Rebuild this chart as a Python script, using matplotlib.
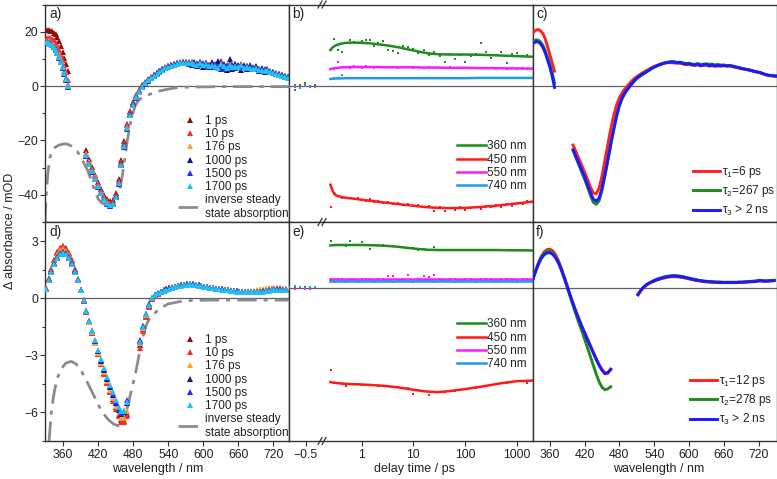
import numpy as np
import matplotlib
matplotlib.use('Agg')
import matplotlib.pyplot as plt
from matplotlib.ticker import MultipleLocator, FixedLocator, NullLocator, FixedFormatter
from matplotlib.lines import Line2D

plt.rcParams['font.family'] = ['Liberation Sans', 'DejaVu Sans']
plt.rcParams['mathtext.fontset'] = 'custom'
plt.rcParams['mathtext.rm'] = 'Liberation Sans'
plt.rcParams['mathtext.it'] = 'Liberation Sans:italic'
plt.rcParams['axes.unicode_minus'] = True

# ---------------- data: panel a (mOD) ----------------
delays = ['1 ps', '10 ps', '176 ps', '1000 ps', '1500 ps', '1700 ps']
wl_a1 = np.arange(332, 369, 3)          # 13 wavelengths
wl_a2 = np.arange(400, 746, 5)          # 70 wavelengths
a1_seg1 = [20.6, 20.5, 20.3, 20.1, 19.7, 19.0, 18.0, 16.6, 14.6, 12.6, 10.5, 8.2, 5.5]
a10_seg1 = [17.8, 17.7, 17.5, 17.2, 16.8, 16.0, 14.8, 13.3, 11.5, 9.5, 7.4, 5.1, 2.4]
a176_seg1 = [16.6, 16.4, 16.1, 15.6, 14.9, 14.0, 12.8, 11.3, 9.5, 7.5, 5.4, 3.1, 0.6]
a1000_seg1 = [16.2, 16.0, 15.7, 15.2, 14.5, 13.5, 12.2, 10.7, 8.9, 6.9, 4.8, 2.6, 0.0]
a1500_seg1 = [16.0, 15.8, 15.5, 15.0, 14.3, 13.3, 12.0, 10.5, 8.7, 6.7, 4.6, 2.3, -0.3]
a1700_seg1 = [16.3, 16.0, 15.6, 15.0, 14.2, 13.2, 12.0, 10.6, 8.8, 6.9, 4.8, 2.6, 0.0]

a1_seg2 = [-23.5, -26.8, -29.8, -32.6, -35.4, -38.0, -40.2, -41.7, -42.4, -42.0,
           -39.4, -34.2, -27.2, -20.2, -13.9, -9.2, -5.8, -3.3, -1.3, 0.3,
           1.5, 2.5, 3.4, 4.2, 4.9, 5.6, 6.3, 6.9, 7.4, 7.8,
           8.2, 8.5, 8.7, 8.9, 8.8, 8.6, 9.0, 8.5, 8.3, 8.7,
           8.1, 8.5, 7.9, 8.8, 7.7, 8.2, 9.1, 7.6, 7.3, 8.3,
           7.7, 8.0, 7.4, 8.1, 7.0, 7.5, 7.6, 6.8, 7.0, 6.4,
           6.3, 6.0, 6.2, 5.4, 5.1, 4.8, 4.4, 4.0, 3.6, 3.3]
a10_seg2 = [-24.5, -27.6, -30.4, -33.2, -36.0, -38.6, -40.8, -42.3, -43.0, -42.6,
            -40.0, -34.8, -27.9, -20.8, -14.4, -9.6, -6.1, -3.6, -1.6, 0.0,
            1.3, 2.3, 3.2, 4.0, 4.8, 5.5, 6.2, 6.8, 7.3, 7.7,
            8.1, 8.4, 8.6, 8.8, 8.7, 8.5, 8.8, 8.4, 8.1, 8.6,
            7.9, 8.3, 7.6, 8.1, 7.8, 7.1, 8.4, 7.5, 6.9, 7.9,
            7.3, 7.6, 7.2, 7.8, 6.9, 7.3, 7.1, 6.5, 6.8, 6.2,
            6.1, 5.8, 6.0, 5.3, 5.0, 4.7, 4.3, 3.9, 3.5, 3.2]
a176_seg2 = [-25.0, -28.0, -30.8, -33.6, -36.5, -39.0, -41.2, -42.8, -43.6, -43.2,
             -40.6, -35.5, -28.6, -21.5, -15.0, -10.1, -6.5, -3.9, -1.8, -0.2,
             1.2, 2.2, 3.1, 3.9, 4.7, 5.4, 6.1, 6.7, 7.2, 7.6,
             8.0, 8.3, 8.5, 8.7, 8.6, 8.4, 8.5, 8.3, 8.0, 8.2,
             7.8, 7.9, 7.4, 7.7, 7.6, 7.2, 7.8, 7.0, 6.4, 7.5,
             7.1, 7.3, 6.8, 7.2, 6.9, 6.8, 7.0, 6.6, 6.5, 6.2,
             6.0, 5.8, 5.6, 5.2, 4.9, 4.6, 4.2, 3.9, 3.5, 3.2]
a1000_seg2 = [-25.6, -28.6, -31.3, -34.1, -36.9, -39.4, -41.6, -43.1, -43.9, -43.3,
              -40.6, -35.6, -28.8, -21.8, -15.3, -10.3, -6.7, -4.1, -2.0, -0.3,
              1.1, 2.2, 3.1, 3.9, 4.7, 5.4, 6.1, 6.7, 7.2, 7.6,
              8.0, 8.3, 8.6, 8.9, 8.3, 8.8, 7.9, 8.9, 7.4, 8.7,
              7.0, 8.4, 6.9, 8.6, 7.2, 9.4, 6.4, 8.1, 5.8, 9.9,
              6.4, 8.2, 7.6, 6.0, 7.9, 6.2, 7.5, 6.4, 7.2, 5.6,
              6.6, 5.3, 6.3, 5.0, 5.2, 4.4, 4.3, 3.9, 3.6, 3.2]
a1500_seg2 = [-25.8, -28.8, -31.5, -34.3, -37.0, -39.5, -41.7, -43.2, -44.0, -43.5,
              -40.9, -36.0, -29.2, -22.3, -15.8, -10.7, -6.9, -4.3, -2.2, -0.5,
              0.9, 2.0, 2.9, 3.8, 4.5, 5.2, 5.9, 6.5, 7.0, 7.5,
              7.8, 8.1, 8.5, 8.4, 8.7, 8.1, 8.4, 7.7, 8.2, 7.6,
              8.3, 7.5, 7.8, 7.0, 8.1, 7.3, 7.4, 6.2, 7.6, 6.9,
              7.8, 6.8, 7.1, 7.4, 6.5, 7.2, 6.6, 6.9, 6.2, 6.4,
              5.7, 6.1, 5.5, 5.3, 4.9, 4.6, 4.2, 3.9, 3.5, 3.2]
a1700_seg2 = [-25.5, -28.5, -31.2, -34.0, -36.8, -39.3, -41.5, -43.0, -43.9, -43.4,
              -40.8, -35.8, -29.0, -22.0, -15.5, -10.5, -6.8, -4.2, -2.1, -0.4,
              1.0, 2.1, 3.0, 3.8, 4.6, 5.3, 6.0, 6.6, 7.1, 7.5,
              7.9, 8.2, 8.4, 8.6, 8.5, 8.3, 8.6, 8.2, 7.9, 8.3,
              7.6, 8.1, 7.2, 7.9, 7.5, 6.8, 8.0, 7.3, 6.5, 7.8,
              7.0, 7.4, 6.9, 7.6, 6.6, 7.0, 6.8, 6.3, 6.6, 6.0,
              5.9, 5.6, 5.8, 5.0, 4.8, 4.5, 4.1, 3.8, 3.4, 3.1]

gray_a_wl = [329, 331, 334, 337, 341, 346, 352, 360, 366, 372, 378, 384, 390, 396, 402,
             408, 414, 420, 426, 432, 440, 448, 454, 458, 462, 466, 470, 474, 478, 483,
             488, 495, 505, 515, 525, 540, 555, 570, 600, 650, 746]
gray_a = [-50, -40, -32, -26.5, -24, -22.6, -21.8, -21.3, -21.3, -21.8, -22.6, -24, -26, -28.5, -31,
          -34.5, -38.5, -41.5, -43, -43.5, -43.5, -42.5, -40, -37, -32, -26, -20, -15, -11, -7.5,
          -5.5, -4.3, -3.3, -2.5, -1.8, -1.1, -0.6, -0.4, -0.3, -0.2, -0.2]

# ---------------- data: panel d (mOD) ----------------
wl_d1 = np.arange(330, 471, 5)          # 29
wl_d2 = np.arange(492, 743, 5)          # 51
d1_seg1 = [0.55, 1.05, 1.55, 2.00, 2.40, 2.66, 2.76, 2.64, 2.37, 1.99, 1.52, 1.01, 0.44, -0.15, -0.71,
           -1.27, -1.83, -2.38, -2.92, -3.44, -3.94, -4.42, -4.88, -5.32, -5.74, -6.12, -6.40, -6.45, -6.10]
d10_seg1 = [0.54, 1.03, 1.52, 1.98, 2.37, 2.63, 2.72, 2.60, 2.34, 1.97, 1.51, 1.01, 0.44, -0.14, -0.70,
            -1.26, -1.82, -2.38, -2.92, -3.45, -3.96, -4.45, -4.93, -5.38, -5.82, -6.20, -6.48, -6.52, -6.20]
d176_seg1 = [0.52, 1.00, 1.48, 1.92, 2.28, 2.52, 2.60, 2.50, 2.26, 1.92, 1.48, 1.00, 0.45, -0.12, -0.68,
             -1.23, -1.78, -2.33, -2.86, -3.38, -3.88, -4.36, -4.82, -5.26, -5.68, -6.05, -6.30, -6.28, -5.95]
d1000_seg1 = [0.50, 0.96, 1.42, 1.83, 2.16, 2.38, 2.45, 2.37, 2.16, 1.85, 1.44, 0.98, 0.45, -0.11, -0.66,
              -1.20, -1.74, -2.27, -2.79, -3.29, -3.78, -4.24, -4.68, -5.10, -5.50, -5.86, -6.08, -6.00, -5.50]
d1500_seg1 = [0.48, 0.93, 1.38, 1.79, 2.12, 2.33, 2.40, 2.32, 2.12, 1.82, 1.42, 0.97, 0.44, -0.11, -0.65,
              -1.19, -1.72, -2.25, -2.76, -3.25, -3.74, -4.19, -4.63, -5.04, -5.44, -5.80, -6.02, -5.95, -5.35]
d1700_seg1 = [0.50, 0.95, 1.40, 1.80, 2.12, 2.32, 2.38, 2.30, 2.10, 1.80, 1.40, 0.95, 0.42, -0.12, -0.65,
              -1.18, -1.70, -2.22, -2.72, -3.20, -3.68, -4.12, -4.55, -4.95, -5.35, -5.70, -5.95, -5.90, -5.45]

d1_seg2 = [-2.45, -1.60, -0.92, -0.40, -0.02, 0.13, 0.24, 0.33, 0.41, 0.47,
           0.52, 0.57, 0.61, 0.65, 0.68, 0.70, 0.72, 0.73, 0.72, 0.70,
           0.67, 0.64, 0.61, 0.58, 0.55, 0.52, 0.50, 0.48, 0.46, 0.44,
           0.42, 0.40, 0.38, 0.36, 0.35, 0.34, 0.33, 0.33, 0.33, 0.34,
           0.35, 0.37, 0.39, 0.41, 0.44, 0.46, 0.48, 0.49, 0.49, 0.48, 0.47]
d10_seg2 = [-2.60, -1.70, -0.98, -0.44, -0.04, 0.12, 0.23, 0.32, 0.40, 0.46,
            0.51, 0.56, 0.60, 0.64, 0.67, 0.70, 0.72, 0.73, 0.72, 0.70,
            0.67, 0.64, 0.61, 0.58, 0.55, 0.52, 0.50, 0.48, 0.46, 0.44,
            0.42, 0.40, 0.38, 0.36, 0.35, 0.34, 0.33, 0.33, 0.34, 0.35,
            0.37, 0.39, 0.42, 0.45, 0.47, 0.49, 0.51, 0.52, 0.51, 0.50, 0.49]
d176_seg2 = [-2.35, -1.55, -0.88, -0.37, 0.01, 0.15, 0.25, 0.34, 0.41, 0.47,
             0.52, 0.57, 0.61, 0.65, 0.68, 0.71, 0.73, 0.74, 0.73, 0.71,
             0.68, 0.65, 0.62, 0.59, 0.56, 0.53, 0.51, 0.49, 0.47, 0.45,
             0.43, 0.41, 0.39, 0.37, 0.36, 0.35, 0.35, 0.36, 0.38, 0.40,
             0.43, 0.46, 0.49, 0.52, 0.54, 0.56, 0.55, 0.53, 0.51, 0.49, 0.47]
d1000_seg2 = [-2.25, -1.48, -0.83, -0.33, 0.03, 0.16, 0.26, 0.34, 0.41, 0.46,
              0.51, 0.56, 0.60, 0.64, 0.67, 0.70, 0.72, 0.73, 0.72, 0.70,
              0.67, 0.64, 0.61, 0.58, 0.55, 0.52, 0.50, 0.48, 0.46, 0.44,
              0.42, 0.40, 0.38, 0.36, 0.34, 0.33, 0.32, 0.31, 0.31, 0.31,
              0.32, 0.34, 0.36, 0.38, 0.41, 0.43, 0.45, 0.46, 0.46, 0.45, 0.44]
d1500_seg2 = [-2.20, -1.45, -0.82, -0.33, 0.03, 0.16, 0.26, 0.34, 0.41, 0.46,
              0.51, 0.56, 0.60, 0.64, 0.67, 0.70, 0.72, 0.73, 0.72, 0.70,
              0.67, 0.64, 0.61, 0.58, 0.55, 0.52, 0.50, 0.48, 0.46, 0.44,
              0.42, 0.40, 0.38, 0.36, 0.34, 0.33, 0.32, 0.31, 0.31, 0.31,
              0.32, 0.34, 0.36, 0.38, 0.41, 0.43, 0.45, 0.46, 0.46, 0.45, 0.44]
d1700_seg2 = [-2.30, -1.50, -0.85, -0.35, 0.02, 0.15, 0.25, 0.33, 0.40, 0.45,
              0.50, 0.55, 0.59, 0.63, 0.66, 0.69, 0.71, 0.72, 0.71, 0.69,
              0.66, 0.63, 0.60, 0.57, 0.54, 0.51, 0.49, 0.47, 0.45, 0.43,
              0.41, 0.39, 0.37, 0.35, 0.33, 0.32, 0.31, 0.30, 0.30, 0.30,
              0.31, 0.33, 0.35, 0.37, 0.40, 0.42, 0.44, 0.45, 0.45, 0.44, 0.43]

gray_d_wl = [336, 340, 345, 350, 357, 365, 374, 382, 390, 398, 406, 414, 422, 430, 438, 446,
             454, 460, 466, 472, 478, 484, 490, 496, 502, 508, 515, 525, 540, 560, 580, 620, 746]
gray_d = [-7.5, -5.9, -4.9, -4.2, -3.7, -3.4, -3.32, -3.45, -3.75, -4.2, -4.7, -5.2, -5.7, -6.1, -6.4, -6.6,
          -6.7, -6.6, -6.2, -5.5, -4.7, -3.95, -3.0, -2.1, -1.45, -1.05, -0.85, -0.55, -0.3, -0.18, -0.12, -0.1, -0.1]

# ---------------- data: panels b / e (kinetics) ----------------
probe = ['360 nm', '450 nm', '550 nm', '740 nm']
t_neg = [-0.69, -0.63, -0.57, -0.51, -0.45, -0.39]
t_pts = [0.26, 0.3, 0.35, 0.42, 0.5, 0.6, 0.7, 0.85, 1.0, 1.2,
         1.45, 1.75, 2.1, 2.6, 3.2, 4.0, 5.0, 6.3, 8.0, 10,
         12.5, 16, 20, 25, 32, 40, 50, 63, 80, 100,
         130, 160, 200, 250, 320, 400, 500, 630, 800, 1000,
         1300, 1600]
t_fit = [0.25, 0.28, 0.32, 0.4, 0.5, 0.7, 1, 1.5, 2, 3, 5, 7, 10, 15, 20, 30, 50, 100, 200, 400, 700, 1000, 2000]

b_neg_360 = [0.2, -1.6, 0.5, 1.2, -0.2, 0.4]
b_neg_450 = [-0.3, 0.4, -0.5, 0.2, -0.4, 0.3]
b_neg_550 = [0.1, -0.2, -0.6, 0.3, -0.3, -0.5]
b_neg_740 = [-0.4, 0.1, -0.2, -0.1, 0.2, -0.3]
b_pts_360 = [13.2, 17.3, 13.4, 12.6, 16.0, 16.9, 16.2, 15.9, 16.6, 17.1,
             16.9, 14.6, 15.8, 16.4, 13.1, 12.8, 12.3, 14.9, 14.2, 13.6,
             12.3, 13.2, 11.5, 12.4, 11.2, 9.0, 11.8, 9.8, 11.3, 8.9,
             11.0, 11.8, 15.7, 12.5, 10.2, 11.6, 12.5, 8.6, 11.9, 12.2,
             10.9, 11.4]
b_pts_450 = [-44.3, -39.6, -40.3, -41.0, -41.2, -41.0, -41.6, -41.3, -41.9, -42.1,
             -41.7, -42.5, -42.2, -42.9, -42.6, -43.4, -43.1, -43.7, -43.5, -44.2,
             -43.8, -44.6, -44.2, -46.0, -44.5, -45.8, -44.7, -45.6, -44.6, -45.5,
             -44.9, -44.3, -45.2, -44.1, -44.5, -43.7, -44.5, -43.2, -44.0, -43.0,
             -43.4, -42.4]
b_pts_550 = [6.3, 6.5, 8.9, 6.9, 7.1, 6.8, 7.3, 7.0, 6.8, 7.2,
             7.0, 6.8, 7.1, 6.9, 7.0, 7.1, 6.8, 6.9, 7.0, 6.7,
             6.9, 6.8, 7.0, 6.6, 6.8, 6.7, 6.9, 6.6, 6.8, 6.6,
             6.7, 6.5, 6.7, 6.5, 6.6, 6.4, 6.6, 6.4, 6.5, 6.3,
             6.5, 6.3]
b_pts_740 = [2.6, 2.8, 2.9, 3.9, 2.8, 2.9, 3.0, 2.8, 2.9, 3.0,
             2.8, 2.9, 3.0, 2.9, 2.8, 3.0, 2.9, 2.9, 3.0, 2.8,
             2.9, 3.0, 2.9, 3.0, 2.8, 2.9, 3.0, 3.1, 2.9, 3.0,
             2.9, 3.0, 3.1, 2.9, 3.0, 3.1, 2.9, 3.0, 3.1, 3.0,
             3.1, 3.0]
b_fit_360 = [13.3, 14.3, 15.0, 15.6, 15.9, 16.0, 15.9, 15.7, 15.4, 15.0, 14.3, 13.7, 13.1, 12.4, 12.0, 11.7, 11.6, 11.6, 11.5, 11.3, 11.1, 11.0, 10.8]
b_fit_450 = [-36.3, -38.8, -40.2, -40.8, -41.1, -41.4, -41.8, -42.2, -42.5, -42.9, -43.4, -43.7, -44.0, -44.4, -44.6, -44.8, -44.9, -44.8, -44.5, -44.0, -43.5, -43.2, -42.5]
b_fit_550 = [6.2, 6.4, 6.6, 6.8, 6.9, 7.0, 7.0, 7.0, 7.0, 6.9, 6.9, 6.9, 6.9, 6.8, 6.8, 6.8, 6.7, 6.7, 6.6, 6.6, 6.5, 6.5, 6.4]
b_fit_740 = [2.6, 2.7, 2.8, 2.8, 2.9, 2.9, 2.9, 2.9, 2.9, 2.9, 2.9, 2.9, 2.9, 2.9, 2.9, 2.9, 2.9, 2.9, 3.0, 3.0, 3.0, 3.0, 3.0]

e_neg_360 = [0.02, -0.03, 0.03, 0.01, -0.02, 0.02]
e_neg_450 = [-0.02, 0.02, -0.03, 0.01, -0.02, 0.03]
e_neg_550 = [0.01, -0.06, 0.02, -0.04, -0.07, 0.03]
e_neg_740 = [0.03, 0.06, 0.02, -0.02, 0.04, 0.01]
e_pts_360 = [2.11, 1.95, 1.95, 1.97, 1.92, 2.11, 1.96, 1.93, 2.08, 1.95,
             1.75, 1.96, 1.93, 1.94, 1.91, 1.90, 1.87, 1.85, 1.82, 1.79,
             1.70, 1.76, 1.73, 1.87, 1.72, 1.73, 1.71, 1.72, 1.73, 1.71,
             1.72, 1.70, 1.72, 1.73, 1.71, 1.72, 1.71, 1.72, 1.70, 1.71,
             1.72, 1.70]
e_pts_450 = [-3.78, -4.33, -4.35, -4.38, -4.50, -4.40, -4.42, -4.41, -4.45, -4.43,
             -4.44, -4.46, -4.48, -4.47, -4.51, -4.52, -4.55, -4.56, -4.58, -4.85,
             -4.66, -4.70, -4.90, -4.75, -4.77, -4.76, -4.73, -4.70, -4.67, -4.63,
             -4.60, -4.56, -4.52, -4.48, -4.45, -4.40, -4.36, -4.33, -4.30, -4.28,
             -4.26, -4.33]
e_pts_550 = [0.38, 0.37, 0.39, 0.38, 0.37, 0.39, 0.38, 0.37, 0.38, 0.39,
             0.38, 0.37, 0.38, 0.39, 0.52, 0.55, 0.37, 0.38, 0.60, 0.28,
             0.38, 0.55, 0.48, 0.58, 0.38, 0.37, 0.38, 0.39, 0.37, 0.38,
             0.39, 0.37, 0.38, 0.39, 0.38, 0.37, 0.38, 0.39, 0.38, 0.37,
             0.38, 0.39]
e_pts_740 = [0.29, 0.28, 0.30, 0.29, 0.28, 0.30, 0.29, 0.28, 0.29, 0.30,
             0.29, 0.28, 0.29, 0.30, 0.29, 0.28, 0.29, 0.30, 0.29, 0.28,
             0.29, 0.30, 0.29, 0.28, 0.29, 0.30, 0.29, 0.28, 0.29, 0.30,
             0.29, 0.28, 0.29, 0.30, 0.29, 0.28, 0.29, 0.30, 0.29, 0.28,
             0.29, 0.30]
e_fit_360 = [1.93, 1.94, 1.95, 1.95, 1.95, 1.95, 1.95, 1.94, 1.93, 1.91, 1.87, 1.83, 1.79, 1.75, 1.73, 1.72, 1.72, 1.72, 1.72, 1.72, 1.71, 1.71, 1.70]
e_fit_450 = [-4.31, -4.33, -4.35, -4.37, -4.39, -4.41, -4.42, -4.44, -4.46, -4.49, -4.55, -4.60, -4.66, -4.72, -4.75, -4.77, -4.72, -4.63, -4.52, -4.40, -4.31, -4.27, -4.24]
e_fit_550 = [0.38, 0.38, 0.38, 0.38, 0.38, 0.38, 0.38, 0.38, 0.38, 0.38, 0.38, 0.38, 0.38, 0.38, 0.38, 0.38, 0.38, 0.38, 0.38, 0.38, 0.38, 0.38, 0.38]
e_fit_740 = [0.29, 0.29, 0.29, 0.29, 0.29, 0.29, 0.29, 0.29, 0.29, 0.29, 0.29, 0.29, 0.29, 0.29, 0.29, 0.29, 0.29, 0.29, 0.29, 0.29, 0.29, 0.29, 0.29]

# ---------------- data: panels c / f (DAS) ----------------
tau_c = [r'τ$_1$=6 ps', r'τ$_2$=267 ps', r'τ$_3$ > 2 ns']
tau_f = [r'τ$_1$=12 ps', r'τ$_2$=278 ps', r'τ$_3$ > 2 ns']
wl_c1 = np.arange(332, 369, 4)          # 10
wl_c2 = np.arange(400, 751, 5)          # 71
c1_seg1 = [19.8, 20.6, 20.8, 20.3, 19.3, 17.3, 14.5, 11.5, 8.5, 5.5]
c2_seg1 = [16.5, 17.0, 16.9, 16.2, 15.0, 13.0, 10.5, 8.0, 4.8, 1.2]
c3_seg1 = [15.8, 16.3, 16.2, 15.5, 14.2, 12.2, 9.6, 6.9, 3.6, -0.5]
c1_seg2 = [-21.7, -24.2, -26.7, -29.2, -31.7, -34.4, -37.2, -39.3, -39.6, -37.5,
           -33.0, -27.3, -21.5, -15.8, -11.0, -7.0, -4.3, -2.4, -0.9, 0.4,
           1.6, 2.7, 3.5, 4.2, 4.9, 5.5, 6.1, 6.7, 7.2, 7.6,
           8.0, 8.3, 8.5, 8.6, 8.6, 8.5, 8.4, 8.4, 8.1, 7.9,
           8.0, 7.7, 7.6, 7.8, 7.4, 7.6, 7.7, 7.3, 7.5, 7.3,
           7.4, 7.3, 7.5, 7.3, 7.4, 7.2, 6.9, 6.7, 6.4, 6.2,
           6.0, 5.8, 5.5, 5.2, 5.0, 4.7, 4.3, 4.0, 3.8, 3.7, 3.6]
c2_seg2 = [-23.5, -26.3, -29.0, -31.7, -34.3, -37.2, -40.2, -42.8, -43.5, -42.2,
           -38.2, -33.0, -27.4, -21.6, -16.2, -11.2, -7.2, -4.4, -2.5, -1.0,
           0.4, 1.7, 2.8, 3.6, 4.3, 5.0, 5.7, 6.4, 7.0, 7.5,
           7.9, 8.3, 8.6, 8.8, 9.0, 8.9, 8.7, 8.8, 8.5, 8.3,
           8.4, 8.1, 8.0, 8.3, 7.9, 8.1, 8.2, 8.0, 8.1, 7.8,
           8.0, 7.7, 7.8, 7.5, 7.6, 7.4, 7.1, 6.9, 6.6, 6.3,
           6.1, 5.9, 5.6, 5.3, 5.1, 4.8, 4.4, 4.1, 3.9, 3.8, 3.7]
c3_seg2 = [-23.5, -26.0, -28.5, -31.0, -33.5, -36.3, -39.2, -41.6, -42.3, -41.2,
           -37.5, -32.5, -27.0, -21.3, -16.0, -11.0, -7.0, -4.2, -2.3, -0.8,
           0.5, 1.8, 2.9, 3.7, 4.4, 5.0, 5.7, 6.4, 7.0, 7.5,
           7.9, 8.3, 8.6, 8.8, 8.9, 8.8, 8.6, 8.7, 8.3, 8.1,
           8.2, 7.9, 7.7, 8.0, 7.6, 7.8, 7.9, 7.5, 7.7, 7.4,
           7.6, 7.5, 7.6, 7.4, 7.5, 7.3, 7.0, 6.8, 6.5, 6.3,
           6.1, 5.9, 5.6, 5.3, 5.1, 4.8, 4.4, 4.1, 3.9, 3.8, 3.7]

wl_f1 = np.arange(330, 466, 5)          # 28
wl_f2 = np.arange(512, 748, 5)          # 48
f1_seg1 = [0.35, 0.75, 1.12, 1.42, 1.63, 1.74, 1.76, 1.68, 1.50, 1.22, 0.87, 0.48, 0.07, -0.35,
           -0.72, -1.08, -1.42, -1.75, -2.05, -2.35, -2.65, -2.95, -3.25, -3.52, -3.74, -3.90, -3.86, -3.74]
f2_seg1 = [0.34, 0.74, 1.10, 1.38, 1.57, 1.67, 1.68, 1.58, 1.40, 1.14, 0.80, 0.42, 0.02, -0.40,
           -0.82, -1.22, -1.60, -1.97, -2.35, -2.75, -3.15, -3.55, -3.95, -4.30, -4.55, -4.66, -4.62, -4.52]
f3_seg1 = [0.33, 0.72, 1.06, 1.33, 1.50, 1.59, 1.60, 1.52, 1.36, 1.12, 0.80, 0.44, 0.05, -0.35,
           -0.74, -1.10, -1.44, -1.77, -2.07, -2.38, -2.68, -2.98, -3.28, -3.55, -3.77, -3.93, -3.90, -3.72]
f1_seg2 = [-0.32, -0.13, 0.02, 0.13, 0.21, 0.27, 0.32, 0.37, 0.41, 0.44,
           0.47, 0.49, 0.50, 0.50, 0.49, 0.47, 0.45, 0.42, 0.39, 0.36,
           0.33, 0.31, 0.29, 0.27, 0.26, 0.25, 0.24, 0.24, 0.23, 0.23,
           0.23, 0.23, 0.23, 0.23, 0.23, 0.24, 0.24, 0.25, 0.26, 0.27,
           0.27, 0.29, 0.31, 0.30, 0.29, 0.30, 0.31, 0.32]
f2_seg2 = [-0.31, -0.11, 0.04, 0.15, 0.23, 0.30, 0.36, 0.41, 0.45, 0.49,
           0.52, 0.54, 0.55, 0.55, 0.54, 0.52, 0.49, 0.46, 0.43, 0.40,
           0.37, 0.34, 0.32, 0.30, 0.29, 0.28, 0.27, 0.26, 0.26, 0.25,
           0.25, 0.25, 0.25, 0.25, 0.25, 0.26, 0.26, 0.27, 0.28, 0.29,
           0.30, 0.32, 0.34, 0.33, 0.31, 0.32, 0.33, 0.34]
f3_seg2 = [-0.32, -0.12, 0.03, 0.14, 0.22, 0.28, 0.34, 0.39, 0.43, 0.47,
           0.50, 0.52, 0.53, 0.53, 0.52, 0.50, 0.47, 0.44, 0.41, 0.38,
           0.35, 0.33, 0.31, 0.29, 0.28, 0.27, 0.26, 0.25, 0.25, 0.24,
           0.24, 0.24, 0.24, 0.24, 0.24, 0.25, 0.25, 0.26, 0.27, 0.28,
           0.28, 0.30, 0.32, 0.31, 0.30, 0.31, 0.32, 0.33]

# ---------------- style ----------------
delay_colors = ['#8a1010', '#ff2a2a', '#ffa030', '#141488', '#2a2aff', '#22c0f0']
probe_colors = ['#1e8c1e', '#ff1a1a', '#ff19ff', '#1e9beb']
das_colors = ['#ff2020', '#1e8c1e', '#1a1aff']
gray_col = '#8c8c8c'
spine_col = '#333333'
TICK_FS = 8.8
LEG_FS = 8.5
LAB_FS = 9.0
MS = 4.2
PMS = 2.0

W, H = 777, 479
fig = plt.figure(figsize=(W / 100, H / 100), dpi=100)


def rect(x0, y0, x1, y1):
    return [x0 / W, 1 - y1 / H, (x1 - x0) / W, (y1 - y0) / H]


def fx(px):
    return px / W


def fy(py):
    return 1 - py / H


def style(ax, hide=()):
    for s, sp in ax.spines.items():
        sp.set_color(spine_col)
        sp.set_linewidth(1.0)
        if s in hide:
            sp.set_visible(False)
    ax.tick_params(which='both', direction='out', colors=spine_col, labelcolor='#222222',
                   labelsize=TICK_FS, width=0.8)
    ax.tick_params(which='major', length=3.5)
    ax.tick_params(which='minor', length=2)
    ax.axhline(0, color='#606060', lw=0.9, zorder=1)


YT, YM, YB = 4.5, 222, 441
XA0, XA1, XBR, XB1, XC1 = 45, 288.5, 323, 532.5, 776.5

ax_a = fig.add_axes(rect(XA0, YT, XA1, YM))
ax_d = fig.add_axes(rect(XA0, YM, XA1, YB))
ax_bl = fig.add_axes(rect(XA1, YT, XBR, YM))
ax_br = fig.add_axes(rect(XBR, YT, XB1, YM))
ax_el = fig.add_axes(rect(XA1, YM, XBR, YB))
ax_er = fig.add_axes(rect(XBR, YM, XB1, YB))
ax_c = fig.add_axes(rect(XB1, YT, XC1, YM))
ax_f = fig.add_axes(rect(XB1, YM, XC1, YB))

for ax in (ax_a, ax_d, ax_c, ax_f):
    style(ax)
for ax in (ax_bl, ax_el):
    style(ax, hide=('right',))
for ax in (ax_br, ax_er):
    style(ax, hide=('left',))

# ---- panel a / d: spectra ----
seg1_a = [a1_seg1, a10_seg1, a176_seg1, a1000_seg1, a1500_seg1, a1700_seg1]
seg2_a = [a1_seg2, a10_seg2, a176_seg2, a1000_seg2, a1500_seg2, a1700_seg2]
seg1_d = [d1_seg1, d10_seg1, d176_seg1, d1000_seg1, d1500_seg1, d1700_seg1]
seg2_d = [d1_seg2, d10_seg2, d176_seg2, d1000_seg2, d1500_seg2, d1700_seg2]

for ax, s1, s2, w1, w2, gwl, gv in ((ax_a, seg1_a, seg2_a, wl_a1, wl_a2, gray_a_wl, gray_a),
                                     (ax_d, seg1_d, seg2_d, wl_d1, wl_d2, gray_d_wl, gray_d)):
    ax.plot(gwl, gv, color=gray_col, lw=2.0, ls=(0, (7, 2.5, 1.5, 2.5)), zorder=2)
    for i, lab in enumerate(delays):
        ax.plot(w1, s1[i], ls='none', marker='^', ms=MS, mew=0, color=delay_colors[i], zorder=3 + i)
        ax.plot(w2, s2[i], ls='none', marker='^', ms=MS, mew=0, color=delay_colors[i], zorder=3 + i)
    ax.set_xlim(329, 746)
    ax.xaxis.set_major_locator(FixedLocator([360, 420, 480, 540, 600, 660, 720]))

ax_a.set_ylim(-50, 30)
ax_a.yaxis.set_major_locator(FixedLocator([-40, -20, 0, 20]))
ax_a.yaxis.set_minor_locator(MultipleLocator(10))
ax_a.tick_params(axis='x', which='both', bottom=False, labelbottom=False)
ax_d.set_ylim(-7.5, 4)
ax_d.yaxis.set_major_locator(FixedLocator([-6, -3, 0, 3]))
ax_d.yaxis.set_minor_locator(MultipleLocator(1.5))
ax_d.xaxis.set_minor_locator(NullLocator())
ax_d.tick_params(axis='x', pad=2)
ax_d.tick_params(axis='y', pad=1.5)
ax_a.tick_params(axis='y', pad=1.5)


def delay_legend(ax, anchor):
    hs = [Line2D([], [], ls='none', marker='^', ms=MS, mew=0, color=c) for c in delay_colors]
    hs.append(Line2D([], [], color=gray_col, lw=2.0, ls=(0, (7, 2.5, 1.5, 2.5))))
    labs = delays + ['inverse steady\nstate absorption']
    leg = ax.legend(hs, labs, loc='lower right', bbox_to_anchor=(fx(anchor[0]), fy(anchor[1])),
                    bbox_transform=fig.transFigure, frameon=False, fontsize=LEG_FS,
                    handlelength=2.0, handletextpad=0.3, labelspacing=0.1, borderpad=0.0,
                    borderaxespad=0.0, numpoints=1)
    for t in leg.get_texts():
        t.set_color('#222222')


delay_legend(ax_a, (289, 220))
delay_legend(ax_d, (289, 439))

# ---- panels b / e: kinetics ----
b_neg = [b_neg_360, b_neg_450, b_neg_550, b_neg_740]
b_pts = [b_pts_360, b_pts_450, b_pts_550, b_pts_740]
b_fit = [b_fit_360, b_fit_450, b_fit_550, b_fit_740]
e_neg = [e_neg_360, e_neg_450, e_neg_550, e_neg_740]
e_pts = [e_pts_360, e_pts_450, e_pts_550, e_pts_740]
e_fit = [e_fit_360, e_fit_450, e_fit_550, e_fit_740]

for axl, axr, neg, pts, fit, ylim in ((ax_bl, ax_br, b_neg, b_pts, b_fit, (-50, 30)),
                                      (ax_el, ax_er, e_neg, e_pts, e_fit, (-7, 3))):
    for i in range(4):
        axl.plot(t_neg, neg[i], ls='none', marker='s', ms=PMS, mew=0, color=probe_colors[i], zorder=3)
        axr.plot(t_pts, pts[i], ls='none', marker='s', ms=PMS, mew=0, color=probe_colors[i], zorder=3)
    for i in range(4):
        axr.plot(t_fit, fit[i], color=probe_colors[i], lw=1.8, zorder=4, label=probe[i])
    axl.set_xlim(-0.7, -0.3)
    axr.set_xscale('log')
    axr.set_xlim(0.18, 2000)
    for ax in (axl, axr):
        ax.set_ylim(*ylim)
        ax.yaxis.set_major_locator(NullLocator())
        ax.yaxis.set_minor_locator(NullLocator())
        ax.tick_params(axis='y', left=False, right=False, labelleft=False)
    axl.xaxis.set_major_locator(FixedLocator([-0.5]))
    axl.xaxis.set_minor_locator(NullLocator())
    axr.xaxis.set_major_locator(FixedLocator([1, 10, 100, 1000]))
    axr.xaxis.set_major_formatter(FixedFormatter(['1', '10', '100', '1000']))
    axr.xaxis.set_minor_locator(NullLocator())

for ax in (ax_bl, ax_br):
    ax.tick_params(axis='x', which='both', bottom=False, labelbottom=False)
for ax in (ax_el, ax_er):
    ax.tick_params(axis='x', pad=2)


def probe_legend(ax, anchor):
    leg = ax.legend(loc='lower right', bbox_to_anchor=(fx(anchor[0]), fy(anchor[1])),
                    bbox_transform=fig.transFigure, frameon=False, fontsize=LEG_FS,
                    handlelength=2.45, handletextpad=0.15, labelspacing=0.1, borderpad=0.0,
                    borderaxespad=0.0)
    for t in leg.get_texts():
        t.set_color('#222222')


probe_legend(ax_br, (527, 192))
probe_legend(ax_er, (527, 370))

# ---- panels c / f: DAS ----
for ax, w1, w2, s1, s2, labs in ((ax_c, wl_c1, wl_c2, [c1_seg1, c2_seg1, c3_seg1], [c1_seg2, c2_seg2, c3_seg2], tau_c),
                                 (ax_f, wl_f1, wl_f2, [f1_seg1, f2_seg1, f3_seg1], [f1_seg2, f2_seg2, f3_seg2], tau_f)):
    for i in range(3):
        ax.plot(w1, s1[i], color=das_colors[i], lw=2.1, zorder=3 + i, label=labs[i])
        ax.plot(w2, s2[i], color=das_colors[i], lw=2.1, zorder=3 + i)
    ax.set_xlim(330, 751)
    ax.xaxis.set_major_locator(FixedLocator([360, 420, 480, 540, 600, 660, 720]))
    ax.xaxis.set_minor_locator(NullLocator())
    ax.yaxis.set_major_locator(NullLocator())
    ax.yaxis.set_minor_locator(NullLocator())
    ax.tick_params(axis='y', left=False, labelleft=False)

ax_c.set_ylim(-50, 30)
ax_f.set_ylim(-7, 3)
ax_c.tick_params(axis='x', which='both', bottom=False, labelbottom=False)
ax_f.tick_params(axis='x', pad=2)


def das_legend(ax, anchor):
    leg = ax.legend(loc='lower right', bbox_to_anchor=(fx(anchor[0]), fy(anchor[1])),
                    bbox_transform=fig.transFigure, frameon=False, fontsize=LEG_FS,
                    handlelength=2.3, handletextpad=0.15, labelspacing=0.3, borderpad=0.0,
                    borderaxespad=0.0)
    for t in leg.get_texts():
        t.set_color('#222222')


das_legend(ax_c, (775, 218))
das_legend(ax_f, (772, 427))

# ---- break marks on the delay axis ----
for yb in (YT, YM, YB):
    for dx in (-3.0, 1.0):
        fig.add_artist(Line2D([fx(XBR + dx - 2), fx(XBR + dx + 2)], [fy(yb + 3.5), fy(yb - 3.5)],
                              color=spine_col, lw=0.9, transform=fig.transFigure))

# ---- texts ----
for lab, x, y in (('a)', 49, 7), ('b)', 292, 7), ('c)', 536, 7),
                  ('d)', 49, 225), ('e)', 292, 225), ('f)', 536, 225)):
    fig.text(fx(x), fy(y), lab, ha='left', va='top', fontsize=9.8, color='#222222')

fig.text(fx(10), fy(231), 'Δ absorbance / mOD', rotation=90, ha='center', va='center',
         fontsize=LAB_FS, color='#222222')
fig.text(fx(158), fy(469), 'wavelength / nm', ha='center', va='center', fontsize=LAB_FS, color='#222222')
fig.text(fx(414.5), fy(469), 'delay time / ps', ha='center', va='center', fontsize=LAB_FS, color='#222222')
fig.text(fx(659), fy(469), 'wavelength / nm', ha='center', va='center', fontsize=LAB_FS, color='#222222')

fig.savefig('out.png', dpi=100)
